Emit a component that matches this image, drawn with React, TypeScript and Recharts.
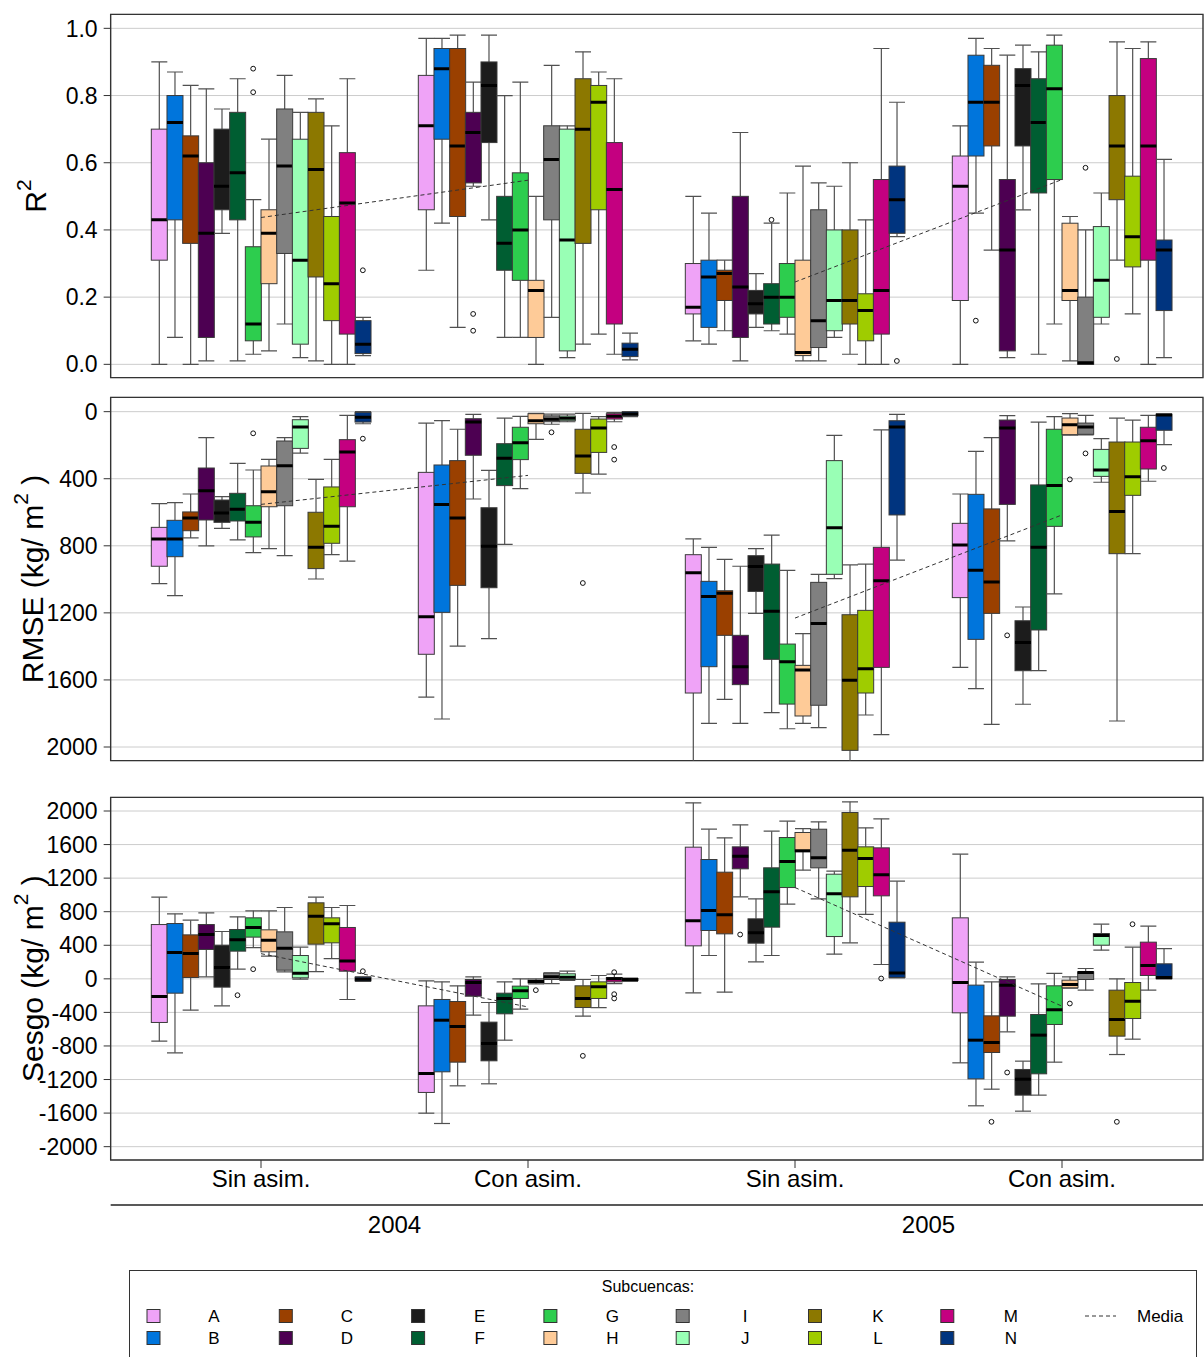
import { Bar, CartesianGrid, ComposedChart, Line, ReferenceArea, Scatter, XAxis, YAxis } from "recharts";

const FONT = "'Liberation Sans', Arial, sans-serif";

const SUBCUENCAS = ["A", "B", "C", "D", "E", "F", "G", "H", "I", "J", "K", "L", "M", "N"];
const COLORS = [
  "#EFA3F7", "#0075DC", "#9A4000", "#4D0052", "#1C1C1C", "#005E32", "#2DCD4E",
  "#FECB98", "#808080", "#99FFB5", "#8C7800", "#9FCC00", "#C40080", "#00347F",
];
const GROUP_LABELS = ["Sin asim.", "Con asim.", "Sin asim.", "Con asim."];
const YEARS = ["2004", "2005"];

// each box: [min, q1, median, q3, max], in subcuenca order A..N
const r2Sin2004 = [
  [0.0, 0.31, 0.43, 0.7, 0.9], [0.08, 0.43, 0.72, 0.8, 0.87], [0.0, 0.36, 0.62, 0.68, 0.83],
  [0.01, 0.08, 0.39, 0.6, 0.82], [0.39, 0.46, 0.53, 0.7, 0.76], [0.01, 0.43, 0.57, 0.75, 0.85],
  [0.03, 0.07, 0.12, 0.35, 0.49], [0.04, 0.24, 0.39, 0.46, 0.67], [0.12, 0.33, 0.59, 0.76, 0.86],
  [0.02, 0.06, 0.31, 0.67, 0.75], [0.01, 0.26, 0.58, 0.75, 0.79], [0.0, 0.13, 0.24, 0.44, 0.71],
  [0.0, 0.09, 0.48, 0.63, 0.85], [0.026, 0.032, 0.06, 0.13, 0.14],
];
const r2Con2004 = [
  [0.28, 0.46, 0.71, 0.86, 0.97], [0.42, 0.67, 0.88, 0.94, 0.97], [0.11, 0.44, 0.65, 0.94, 0.98],
  [0.53, 0.54, 0.69, 0.75, 0.84], [0.43, 0.66, 0.83, 0.9, 0.98], [0.08, 0.28, 0.36, 0.5, 0.8],
  [0.08, 0.25, 0.4, 0.57, 0.84], [0.0, 0.08, 0.22, 0.25, 0.5], [0.14, 0.43, 0.61, 0.71, 0.89],
  [0.02, 0.04, 0.37, 0.7, 0.71], [0.06, 0.36, 0.7, 0.85, 0.93], [0.09, 0.46, 0.78, 0.83, 0.87],
  [0.03, 0.12, 0.52, 0.66, 0.85], [0.013, 0.023, 0.045, 0.063, 0.093],
];
const r2Sin2005 = [
  [0.07, 0.15, 0.17, 0.3, 0.5], [0.06, 0.11, 0.26, 0.31, 0.45], [0.1, 0.19, 0.27, 0.28, 0.31],
  [0.01, 0.08, 0.23, 0.5, 0.69], [0.11, 0.15, 0.18, 0.22, 0.27], [0.1, 0.12, 0.2, 0.24, 0.42],
  [0.09, 0.14, 0.2, 0.3, 0.51], [0.01, 0.026, 0.035, 0.31, 0.59], [0.01, 0.05, 0.13, 0.46, 0.54],
  [0.08, 0.1, 0.19, 0.4, 0.53], [0.03, 0.12, 0.19, 0.4, 0.6], [0.0, 0.07, 0.16, 0.21, 0.43],
  [0.0, 0.09, 0.22, 0.55, 0.94], [0.38, 0.39, 0.49, 0.59, 0.78],
];
const r2Con2005 = [
  [0.0, 0.19, 0.53, 0.62, 0.71], [0.45, 0.62, 0.78, 0.92, 0.97], [0.34, 0.65, 0.78, 0.89, 0.94],
  [0.02, 0.04, 0.34, 0.55, 0.92], [0.46, 0.65, 0.83, 0.88, 0.95], [0.03, 0.51, 0.72, 0.85, 0.93],
  [0.12, 0.55, 0.82, 0.95, 0.98], [0.01, 0.19, 0.22, 0.42, 0.44], [0.0, 0.0, 0.005, 0.2, 0.4],
  [0.12, 0.14, 0.25, 0.41, 0.51], [0.31, 0.49, 0.65, 0.8, 0.96], [0.15, 0.29, 0.38, 0.56, 0.94],
  [0.0, 0.31, 0.65, 0.91, 0.96], [0.02, 0.16, 0.34, 0.37, 0.61],
];
// [group, subcuenca, value]
const r2Outliers = [
  [0, 6, 0.88], [0, 6, 0.81], [0, 13, 0.28], [1, 3, 0.15], [1, 3, 0.1], [2, 5, 0.43],
  [2, 13, 0.01], [3, 1, 0.13], [3, 8, 0.585], [3, 10, 0.016],
];
// mean per year: [Sin asim., Con asim.]
const r2Means = [[0.437, 0.548], [0.245, 0.55]];

const rmseSin2004 = [
  [549, 690, 759, 922, 1026], [543, 648, 759, 865, 1097], [491, 598, 634, 710, 753],
  [155, 336, 471, 646, 801], [507, 527, 604, 660, 696], [308, 487, 582, 652, 765],
  [348, 561, 660, 747, 841], [284, 324, 477, 567, 817], [155, 175, 322, 561, 859],
  [30, 48, 91, 219, 247], [404, 600, 809, 936, 998], [284, 449, 684, 785, 853],
  [22, 167, 241, 567, 891], [0, 4, 34, 62, 72],
];
const rmseCon2004 = [
  [68, 362, 1223, 1447, 1702], [54, 318, 553, 1197, 1833], [105, 292, 634, 1036, 1398],
  [16, 42, 62, 260, 521], [350, 573, 803, 1050, 1354], [38, 191, 278, 441, 791],
  [28, 93, 185, 286, 459], [10, 12, 54, 72, 165], [15, 25, 45, 60, 75],
  [15, 26, 40, 54, 60], [10, 105, 264, 368, 485], [30, 44, 97, 243, 372],
  [5, 12, 28, 44, 60], [0, 2, 14, 24, 30],
];
const rmseSin2005 = [
  [759, 853, 960, 1678, 2150], [809, 1012, 1103, 1521, 1859], [881, 1068, 1083, 1334, 1716],
  [922, 1334, 1521, 1628, 1859], [817, 859, 924, 1072, 1203], [736, 909, 1191, 1477, 1795],
  [946, 1386, 1491, 1744, 1891], [1324, 1513, 1541, 1815, 1859], [970, 1018, 1264, 1751, 1885],
  [141, 292, 692, 970, 996], [914, 1211, 1602, 2020, 2100], [909, 1185, 1533, 1678, 1809],
  [109, 809, 1008, 1525, 1926], [16, 54, 91, 616, 885],
];
const rmseCon2005 = [
  [491, 666, 795, 1109, 1525], [237, 493, 946, 1358, 1652], [155, 580, 1016, 1203, 1865],
  [24, 50, 97, 553, 771], [1165, 1247, 1376, 1545, 1745], [62, 437, 809, 1302, 1545],
  [30, 105, 441, 684, 1087], [12, 38, 78, 137, 140], [22, 68, 91, 135, 138],
  [161, 225, 348, 386, 421], [38, 181, 596, 847, 1845], [50, 181, 388, 499, 847],
  [22, 93, 173, 342, 415], [14, 15, 20, 111, 197],
];
const rmseOutliers = [
  [0, 6, 129], [0, 13, 161], [1, 8, 123], [1, 10, 1022], [1, 12, 211], [1, 12, 286],
  [3, 3, 1334], [3, 7, 404], [3, 8, 249], [3, 13, 336],
];
const rmseMeans = [[553, 380], [1231, 616]];

const sesgoSin2004 = [
  [-743, -520, -211, 647, 973], [-882, -171, 314, 659, 775], [-373, 16, 302, 524, 699],
  [24, 350, 528, 647, 786], [-322, -99, 135, 401, 564], [115, 330, 465, 588, 739],
  [373, 497, 612, 727, 810], [270, 322, 461, 584, 810], [83, 103, 365, 560, 850],
  [-4, 12, 68, 278, 377], [87, 413, 747, 906, 973], [242, 429, 655, 727, 850],
  [-246, 91, 214, 612, 874], [-30, -24, -5, 20, 24],
];
const sesgoCon2004 = [
  [-1601, -1354, -1128, -322, -24], [-1724, -1108, -493, -246, -36], [-1275, -993, -568, -270, -83],
  [-433, -207, -44, -8, 24], [-1251, -977, -771, -516, -282], [-731, -417, -234, -171, -36],
  [-361, -234, -143, -87, 0], [-60, -48, -32, -16, 0], [-56, -8, 24, 68, 72],
  [-20, -8, 20, 60, 91], [-445, -342, -234, -83, -8], [-342, -234, -95, -36, 40],
  [-56, -36, 0, 16, 56], [-30, -20, -8, 4, 8],
];
const sesgoSin2005 = [
  [-167, 393, 691, 1569, 2097], [278, 576, 814, 1422, 1783], [-159, 536, 763, 1271, 1680],
  [977, 1311, 1462, 1573, 1835], [203, 425, 548, 715, 953], [278, 616, 1037, 1323, 1760],
  [890, 1088, 1398, 1684, 1879], [1295, 1515, 1525, 1744, 1791], [953, 1323, 1442, 1783, 1871],
  [294, 504, 1013, 1247, 1283], [429, 977, 1533, 1982, 2109], [767, 1100, 1434, 1573, 1799],
  [171, 989, 1239, 1561, 1907], [10, 16, 71, 675, 1164],
];
const sesgoCon2005 = [
  [-1001, -405, -44, 727, 1486], [-1513, -1192, -731, -75, 199], [-1315, -878, -759, -441, -36],
  [-632, -445, -75, -8, 24], [-1577, -1386, -1196, -1080, -981], [-1386, -1132, -671, -425, -60],
  [-993, -544, -369, -83, 64], [-110, -107, -68, -16, 24], [-135, -8, 75, 83, 123],
  [342, 401, 516, 540, 651], [-902, -683, -485, -135, 0], [-719, -473, -266, -44, 377],
  [-135, 40, 159, 437, 628], [0, 2, 16, 179, 361],
];
const sesgoOutliers = [
  [0, 5, -195], [0, 6, 115], [0, 13, 91], [1, 7, -135], [1, 10, -918], [1, 12, -183],
  [1, 12, -234], [1, 12, 79], [2, 3, 528], [2, 12, 4], [3, 2, -1704], [3, 3, -1116],
  [3, 7, -294], [3, 10, -1704], [3, 11, 651],
];
const sesgoMeans = [[300, -335], [1088, -326]];

const R2_TICKS = [0, 0.2, 0.4, 0.6, 0.8, 1.0];
const RMSE_TICKS = [0, 400, 800, 1200, 1600, 2000];
const SESGO_TICKS = [-2000, -1600, -1200, -800, -400, 0, 400, 800, 1200, 1600, 2000];

// x layout in box-slot units
const PLOT_LEFT = 110.67;
const SLOT_PX = 15.67;
const X_MAX = (1203 - PLOT_LEFT) / SLOT_PX;
const FIRST_CENTER = (261 - PLOT_LEFT) / SLOT_PX;
const GROUP_STEP = 267 / SLOT_PX;
const groupCenter = (g: number) => FIRST_CENTER + g * GROUP_STEP;
const boxX = (g: number, k: number) => groupCenter(g) + k - 6.5;
const CENTERS = [0, 1, 2, 3].map(groupCenter);
const YEAR_CENTERS = [0, 1].map((y) => (groupCenter(2 * y) + groupCenter(2 * y + 1)) / 2);

const buildRows = (groups: number[][][]) =>
  groups.flatMap((boxes, g) =>
    boxes.map((s, k) => ({ x: boxX(g, k), range: [s[0], s[4]], stats: s, color: COLORS[k] }))
  );

function BoxShape(props: any) {
  const { x, y, width, height, payload } = props;
  if (!payload || x == null) return null;
  const [lo, q1, med, q3, hi] = payload.stats;
  const yHi = y;
  const yLo = y + height;
  const py = (v: number) => yHi + ((v - hi) / (lo - hi)) * (yLo - yHi);
  const cx = x + width / 2;
  const top = Math.min(py(q1), py(q3));
  const h = Math.abs(py(q1) - py(q3));
  const wc = "#505050";
  return (
    <g>
      <line x1={cx} x2={cx} y1={py(hi)} y2={py(q3)} stroke={wc} strokeWidth={1.2} />
      <line x1={cx} x2={cx} y1={py(lo)} y2={py(q1)} stroke={wc} strokeWidth={1.2} />
      <line x1={x} x2={x + width} y1={py(hi)} y2={py(hi)} stroke={wc} strokeWidth={1.2} />
      <line x1={x} x2={x + width} y1={py(lo)} y2={py(lo)} stroke={wc} strokeWidth={1.2} />
      <rect x={x} y={top} width={width} height={Math.max(h, 0.5)} fill={payload.color} stroke="#3a3a3a" strokeWidth={1} />
      <line x1={x} x2={x + width} y1={py(med)} y2={py(med)} stroke="#000" strokeWidth={3} />
    </g>
  );
}

function OutlierDot(props: any) {
  const { cx, cy } = props;
  if (cx == null || cy == null) return null;
  return <circle cx={cx} cy={cy} r={2.4} fill="none" stroke="#111" strokeWidth={1} />;
}

function AxisTitle(props: any) {
  const { viewBox, base, after, cx } = props;
  const cy = viewBox.y + viewBox.height / 2;
  return (
    <text transform={`translate(${cx},${cy}) rotate(-90)`} textAnchor="middle" fontSize={30} fontFamily={FONT} fill="#000">
      {base}
      <tspan dy={-15} fontSize={21}>2</tspan>
      {after ? <tspan dy={15}>{after}</tspan> : null}
    </text>
  );
}

type PanelSpec = {
  groups: number[][][];
  outliers: number[][];
  means: number[][];
  domain: [number, number];
  ticks: number[];
  reversed: boolean;
  fmt: (v: number) => string;
  titleBase: string;
  titleAfter: string;
  titleX: number;
};

const PANELS: PanelSpec[] = [
  {
    groups: [r2Sin2004, r2Con2004, r2Sin2005, r2Con2005], outliers: r2Outliers, means: r2Means,
    domain: [-0.0397, 1.0417], ticks: R2_TICKS, reversed: false, fmt: (v) => v.toFixed(1),
    titleBase: "R", titleAfter: "", titleX: 46,
  },
  {
    groups: [rmseSin2004, rmseCon2004, rmseSin2005, rmseCon2005], outliers: rmseOutliers, means: rmseMeans,
    domain: [-85.5, 2081.5], ticks: RMSE_TICKS, reversed: true, fmt: (v) => String(v),
    titleBase: "RMSE (kg/ m", titleAfter: " )", titleX: 43,
  },
  {
    groups: [sesgoSin2004, sesgoCon2004, sesgoSin2005, sesgoCon2005], outliers: sesgoOutliers, means: sesgoMeans,
    domain: [-2159, 2163], ticks: SESGO_TICKS, reversed: false, fmt: (v) => String(v),
    titleBase: "Sesgo (kg/ m", titleAfter: " )", titleX: 43,
  },
];

const tickStyle = { fontSize: 23, fill: "#000", fontFamily: FONT };

function Panel({ spec, top, height, marginTop, axisHeight, bottom }: any) {
  const s: PanelSpec = spec;
  const rows = buildRows(s.groups);
  const outlierRows = s.outliers.map(([g, k, v]) => ({ x: boxX(g, k), y: v }));
  const meanRows = s.means.map((pair, yr) => pair.map((v, j) => ({ x: groupCenter(yr * 2 + j), y: v })));
  return (
    <div style={{ position: "absolute", left: 0, top }}>
      <ComposedChart
        width={1204}
        height={height}
        data={rows}
        margin={{ top: marginTop, right: 1, bottom: 0, left: 0 }}
        barCategoryGap={0}
        barGap={0}
      >
        <CartesianGrid xAxisId="m" vertical={false} stroke="#cccccc" />
        <XAxis
          xAxisId="m"
          dataKey="x"
          type="number"
          domain={[0, X_MAX]}
          allowDataOverflow
          ticks={CENTERS}
          interval={0}
          height={axisHeight}
          axisLine={false}
          tickSize={bottom ? 8 : 7}
          tickMargin={2}
          tickLine={{ stroke: "#333" }}
          tick={bottom ? { fontSize: 24, fill: "#000", fontFamily: FONT } : false}
          tickFormatter={(v: number) => GROUP_LABELS[Math.round((v - FIRST_CENTER) / GROUP_STEP)] ?? ""}
        />
        {bottom && (
          <XAxis
            xAxisId="yr"
            dataKey="x"
            type="number"
            domain={[0, X_MAX]}
            allowDataOverflow
            ticks={YEAR_CENTERS}
            interval={0}
            height={40}
            axisLine={{ stroke: "#222", strokeWidth: 1.3 }}
            tickLine={false}
            tickSize={0}
            tickMargin={11}
            tick={{ fontSize: 24, fill: "#000", fontFamily: FONT }}
            tickFormatter={(v: number) => YEARS[Math.round((v - YEAR_CENTERS[0]) / (2 * GROUP_STEP))] ?? ""}
          />
        )}
        <XAxis xAxisId="b" dataKey="x" type="number" domain={[0, X_MAX]} hide height={0} allowDataOverflow />
        <YAxis
          type="number"
          domain={s.domain}
          allowDataOverflow
          reversed={s.reversed}
          ticks={s.ticks}
          interval={0}
          width={PLOT_LEFT}
          axisLine={false}
          tickSize={7}
          tickMargin={6}
          tickLine={{ stroke: "#333" }}
          tick={tickStyle}
          tickFormatter={s.fmt}
          label={{
            content: (p: any) => <AxisTitle {...p} base={s.titleBase} after={s.titleAfter} cx={s.titleX} />,
          }}
        />
        <Bar xAxisId="b" dataKey="range" shape={(p: any) => <BoxShape {...p} />} isAnimationActive={false} />
        {meanRows.map((d, i) => (
          <Line
            key={i}
            xAxisId="m"
            data={d}
            dataKey="y"
            type="linear"
            stroke="#333"
            strokeWidth={1}
            strokeDasharray="4 3"
            dot={false}
            isAnimationActive={false}
          />
        ))}
        <Scatter xAxisId="m" data={outlierRows} dataKey="y" shape={(p: any) => <OutlierDot {...p} />} isAnimationActive={false} />
        <ReferenceArea
          xAxisId="m"
          x1={0}
          x2={X_MAX}
          y1={s.domain[0]}
          y2={s.domain[1]}
          fill="none"
          stroke="#333"
          strokeWidth={1.4}
          ifOverflow="visible"
        />
      </ComposedChart>
    </div>
  );
}

function LegendBox() {
  return (
    <svg width={1204} height={97} style={{ position: "absolute", left: 0, top: 1260 }}>
      <rect x={129.5} y={10.5} width={1067} height={100} fill="none" stroke="#333" strokeWidth={1} />
      <text x={648} y={32} textAnchor="middle" fontSize={16} fontFamily={FONT} fill="#000">
        Subcuencas:
      </text>
      {SUBCUENCAS.map((name, i) => {
        const c = Math.floor(i / 2);
        const r = i % 2;
        const sx = 147 + c * 132.3;
        const cy = 56 + r * 22;
        return (
          <g key={name}>
            <rect x={sx} y={cy - 6.5} width={13} height={13} fill={COLORS[i]} stroke="#333" strokeWidth={1} />
            <text x={214 + c * 132.8} y={cy + 6} textAnchor="middle" fontSize={17} fontFamily={FONT} fill="#000">
              {name}
            </text>
          </g>
        );
      })}
      <line x1={1085} x2={1116} y1={56} y2={56} stroke="#333" strokeWidth={1} strokeDasharray="4 3" />
      <text x={1137} y={62} fontSize={17} fontFamily={FONT} fill="#000">
        Media
      </text>
    </svg>
  );
}

export default function App() {
  return (
    <div style={{ position: "absolute", left: 0, top: 0, width: 1204, height: 1357, background: "#fff", fontFamily: FONT }}>
      <Panel spec={PANELS[0]} top={0} height={390} marginTop={14.33} axisHeight={12.33} bottom={false} />
      <Panel spec={PANELS[1]} top={390} height={383} marginTop={7.33} axisHeight={12.33} bottom={false} />
      <Panel spec={PANELS[2]} top={780} height={465} marginTop={17.33} axisHeight={45} bottom={true} />
      <LegendBox />
    </div>
  );
}
